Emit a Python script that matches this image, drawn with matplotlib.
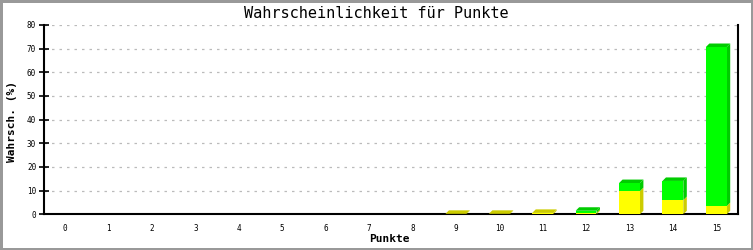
import matplotlib
matplotlib.use("Agg")
import matplotlib.pyplot as plt
from matplotlib.patches import Polygon, Rectangle

categories = [str(i) for i in range(16)]
yellow_vals = [0, 0, 0, 0, 0, 0, 0, 0, 0, 0.2, 0.2, 0.6, 0.6, 9.8, 6.0, 3.5]
green_vals = [0, 0, 0, 0, 0, 0, 0, 0, 0, 0.0, 0.0, 0.0, 0.9, 3.4, 8.1, 67.2]
yticks = [0, 10, 20, 30, 40, 50, 60, 70, 80]

title = "Wahrscheinlichkeit für Punkte"
xlabel = "Punkte"
ylabel = "Wahrsch. (%)"

W, H = 753, 250
fig = plt.figure(figsize=(W / 100, H / 100), dpi=100)
fig.patch.set_facecolor("white")
fig.patch.set_edgecolor("#999999")
fig.patch.set_linewidth(2.5)

ax_l, ax_r, ax_t, ax_b = 43.5, 738, 25, 214.3
ax = fig.add_axes([ax_l / W, 1 - ax_b / H, (ax_r - ax_l) / W, (ax_b - ax_t) / H])
ax.set_xlim(-0.5, 15.5)
ax.set_ylim(0, 80)

mono = "DejaVu Sans Mono"
px_x = 16 / (ax_r - ax_l)
px_y = 80 / (ax_b - ax_t)
dx = 3.5 * px_x
dy = 3.5 * px_y
bw = 0.48


def bar3d(x, y0, h, front, dark, top=True):
    left = x - bw / 2
    right = x + bw / 2
    y1 = y0 + h
    ax.add_patch(Polygon([(right, y0), (right + dx, y0 + dy), (right + dx, y1 + dy), (right, y1)],
                         closed=True, facecolor=dark, edgecolor="none", zorder=3))
    if top:
        ax.add_patch(Polygon([(left, y1), (left + dx, y1 + dy), (right + dx, y1 + dy), (right, y1)],
                             closed=True, facecolor=dark, edgecolor="none", zorder=3))
    if h > 0:
        ax.add_patch(Rectangle((left, y0), bw, h, facecolor=front, edgecolor="none", zorder=4))


for i, (yv, gv) in enumerate(zip(yellow_vals, green_vals)):
    if yv <= 0 and gv <= 0:
        continue
    bar3d(i, 0, yv, "#ffff00", "#cccc00", top=(gv <= 0))
    if gv > 0:
        bar3d(i, yv, gv, "#00ff00", "#00cc00", top=True)

ax.set_xticks(range(16))
ax.set_xticklabels(categories, fontfamily=mono, fontsize=5.5)
ax.set_yticks(yticks)
ax.set_yticklabels([str(v) for v in yticks], fontfamily=mono, fontsize=5.5)
ax.tick_params(axis="x", length=0, pad=7)
ax.tick_params(axis="y", direction="inout", length=6.5, width=1.2, pad=2)

for v in yticks[1:]:
    ax.axhline(v, color="#bbbbbb", lw=0.9, ls=(0, (2, 4)), zorder=1)

for s in ["left", "bottom", "right"]:
    ax.spines[s].set_linewidth(1.5)
    ax.spines[s].set_color("black")
ax.spines["top"].set_visible(False)

fig.text(376 / W, 1 - 14 / H, title, ha="center", va="center", fontfamily=mono, fontsize=11)
fig.text(389 / W, 1 - 239 / H, xlabel, ha="center", va="center", fontfamily=mono,
         fontsize=8, fontweight="bold")
fig.text(12 / W, 1 - 121 / H, ylabel, ha="center", va="center", rotation=90,
         fontfamily=mono, fontsize=8, fontweight="bold")

fig.savefig("out.png", dpi=100, facecolor=fig.get_facecolor(), edgecolor=fig.get_edgecolor())
